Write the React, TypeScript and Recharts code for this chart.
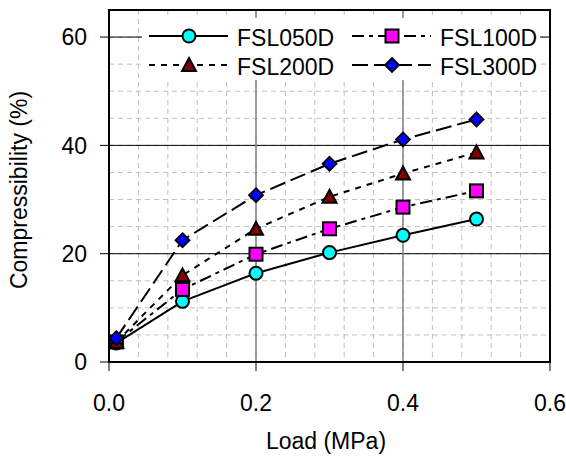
import React from 'react';
import { LineChart, Line, XAxis, YAxis, CartesianGrid, Legend, ReferenceArea, Label } from 'recharts';

const loads = [0.01, 0.1, 0.2, 0.3, 0.4, 0.5];
const fsl050d = [3.5, 11.2, 16.4, 20.2, 23.4, 26.4];
const fsl100d = [3.7, 13.4, 19.9, 24.6, 28.6, 31.6];
const fsl200d = [3.7, 16.0, 24.6, 30.5, 34.8, 38.7];
const fsl300d = [4.4, 22.5, 30.8, 36.6, 41.1, 44.8];

const xTicks = [0, 0.2, 0.4, 0.6];
const yTicks = [0, 20, 40, 60];
const xMinor = [0.04, 0.08, 0.12, 0.16, 0.2, 0.24, 0.28, 0.32, 0.36, 0.4, 0.44, 0.48, 0.52, 0.56];
const yMinor = [5, 10, 15, 20, 25, 30, 35, 40, 45, 50, 55, 60];
const yMajor = [20, 40, 60];
const xMajor = [0.2, 0.4];

const data = loads.map((load, i) => ({
  load,
  FSL050D: fsl050d[i],
  FSL100D: fsl100d[i],
  FSL200D: fsl200d[i],
  FSL300D: fsl300d[i],
}));

type Shape = 'circle' | 'square' | 'triangle' | 'diamond';

const series: { key: string; dash?: string; shape: Shape; fill: string }[] = [
  { key: 'FSL050D', shape: 'circle', fill: '#00FFFF' },
  { key: 'FSL100D', dash: '12 5 4 5', shape: 'square', fill: '#FF00FF' },
  { key: 'FSL200D', dash: '6 6', shape: 'triangle', fill: '#800000' },
  { key: 'FSL300D', dash: '16 6', shape: 'diamond', fill: '#0000FF' },
];

const FONT = '"Liberation Sans", Arial, sans-serif';

function Marker({ shape, cx, cy, fill }: { shape: Shape; cx: number; cy: number; fill: string }) {
  if (cx == null || cy == null) return null;
  if (shape === 'circle') {
    return <circle cx={cx} cy={cy} r={6.5} fill={fill} stroke="#000" strokeWidth={2} />;
  }
  if (shape === 'square') {
    return <rect x={cx - 6.5} y={cy - 6.5} width={13} height={13} fill={fill} stroke="#000" strokeWidth={2} />;
  }
  if (shape === 'triangle') {
    return (
      <polygon
        points={`${cx},${cy - 7} ${cx + 7},${cy + 6} ${cx - 7},${cy + 6}`}
        fill={fill}
        stroke="#000"
        strokeWidth={2}
        strokeLinejoin="miter"
      />
    );
  }
  return (
    <polygon
      points={`${cx},${cy - 7} ${cx + 7},${cy} ${cx},${cy + 7} ${cx - 7},${cy}`}
      fill={fill}
      stroke="#000"
      strokeWidth={1.8}
    />
  );
}

function LegendBox() {
  const cols = [0, 203];
  const rows = [18, 47];
  return (
    <svg width={398} height={62} style={{ display: 'block', background: '#fff', overflow: 'visible' }}>
      {series.map((s, i) => {
        const ox = cols[i % 2];
        const y = rows[Math.floor(i / 2)];
        return (
          <g key={s.key}>
            <line x1={ox + 7} x2={ox + 86} y1={y} y2={y} stroke="#000" strokeWidth={2} strokeDasharray={s.dash} />
            <Marker shape={s.shape} cx={ox + 47} cy={y} fill={s.fill} />
            <text x={ox + 95} y={y + 9.5} fontSize={23} fontFamily={FONT} fill="#000">
              {s.key}
            </text>
          </g>
        );
      })}
    </svg>
  );
}

export default function App() {
  return (
    <div style={{ position: 'absolute', left: 0, top: 0, background: '#fff' }}>
      <LineChart
        width={566}
        height={457}
        data={data}
        margin={{ top: 10, right: 16, bottom: 0, left: 0 }}
        style={{ fontFamily: FONT }}
      >
        <CartesianGrid
          horizontalValues={yMinor}
          verticalValues={xMinor}
          stroke="#c0c0c0"
          strokeDasharray="5 4"
          strokeWidth={1}
        />
        <CartesianGrid horizontalValues={yMajor} vertical={false} stroke="#000" strokeWidth={1} />
        <CartesianGrid verticalValues={xMajor} horizontal={false} stroke="#808080" strokeWidth={1.5} />
        <XAxis
          type="number"
          dataKey="load"
          domain={[0, 0.6]}
          ticks={xTicks}
          tickFormatter={(v: number) => v.toFixed(1)}
          height={95}
          tickSize={9}
          tickMargin={24}
          tick={{ fontSize: 23, fill: '#000', fontFamily: FONT }}
          axisLine={{ stroke: '#000', strokeWidth: 2 }}
          tickLine={{ stroke: '#000', strokeWidth: 1 }}
          allowDataOverflow
        >
          <Label
            content={(props: any) => {
              const vb = props.viewBox || { x: 109, y: 362, width: 441 };
              return (
                <text x={vb.x + vb.width / 2 - 3.5} y={vb.y + 87} textAnchor="middle" fontSize={23} fontFamily={FONT} fill="#000">
                  Load (MPa)
                </text>
              );
            }}
          />
        </XAxis>
        <YAxis
          type="number"
          domain={[0, 65]}
          ticks={yTicks}
          width={109}
          tickSize={9}
          tickMargin={13}
          tick={{ fontSize: 23, fill: '#000', fontFamily: FONT }}
          axisLine={{ stroke: '#000', strokeWidth: 2 }}
          tickLine={{ stroke: '#000', strokeWidth: 1 }}
          allowDataOverflow
        >
          <Label
            content={(props: any) => {
              const vb = props.viewBox || { x: 0, y: 10, height: 352 };
              const cx = 27;
              const cy = vb.y + vb.height / 2 + 4;
              return (
                <text
                  x={cx}
                  y={cy}
                  transform={`rotate(-90, ${cx}, ${cy})`}
                  textAnchor="middle"
                  fontSize={23}
                  fontFamily={FONT}
                  fill="#000"
                >
                  Compressibility (%)
                </text>
              );
            }}
          />
        </YAxis>
        <ReferenceArea x1={0} x2={0.6} y1={0} y2={65} fill="none" stroke="#000" strokeWidth={2} fillOpacity={0} />
        {series.map((s) => (
          <Line
            key={s.key}
            type="linear"
            dataKey={s.key}
            stroke="#000"
            strokeWidth={2}
            strokeDasharray={s.dash}
            isAnimationActive={false}
            activeDot={false}
            dot={(p: any) => <Marker key={`${s.key}-${p.index}`} shape={s.shape} cx={p.cx} cy={p.cy} fill={s.fill} />}
          />
        ))}
        <Legend
          layout="horizontal"
          verticalAlign="middle"
          align="center"
          wrapperStyle={{ left: 142, top: 18, width: 398, height: 62 }}
          content={() => <LegendBox />}
        />
      </LineChart>
    </div>
  );
}
